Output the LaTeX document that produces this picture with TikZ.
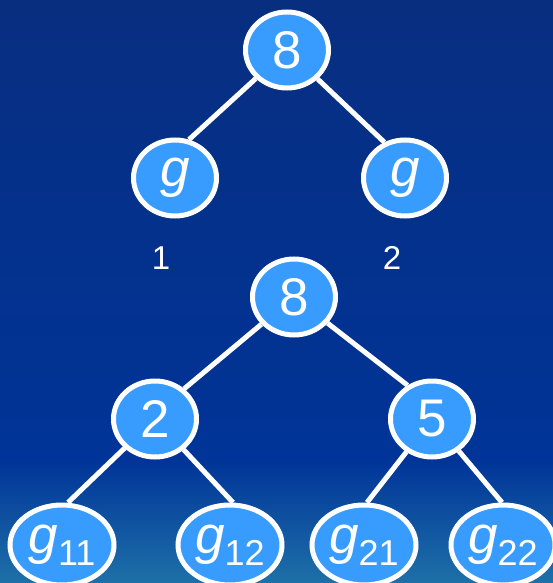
\documentclass[tikz,border=0pt]{standalone}
\usepackage{fontspec}
\setmainfont{Liberation Sans}
\usetikzlibrary{shapes.geometric}
\definecolor{bgtop}{RGB}{8,46,128}
\definecolor{bgmid}{RGB}{0,52,152}
\definecolor{bgbot}{RGB}{30,112,168}
\definecolor{nodefill}{RGB}{56,156,255}
\tikzset{
  tnode/.style={ellipse, draw=white, line width=5pt, fill=nodefill, text=white,
    minimum width=83pt, minimum height=76pt, inner sep=0pt, font=\fontsize{53}{53}\selectfont},
  leaf/.style={tnode, minimum width=104pt, minimum height=80pt},
  edge/.style={draw=white, line width=5pt},
  lbl/.style={text=white, font=\fontsize{33}{33}\selectfont, inner sep=0pt}
}
\newcommand{\gsub}[1]{\itshape g\upshape\raisebox{-12pt}{\fontsize{36}{36}\selectfont #1}}
\begin{document}
\begin{tikzpicture}[x=1pt,y=-1pt]
\useasboundingbox (0,0) rectangle (553,583);
\shade[top color=bgtop, bottom color=bgmid] (0,0) rectangle (553,460);
\shade[top color=bgmid, bottom color=bgbot] (0,459.5) rectangle (553,583);
% top tree
\node[tnode] (r1) at (287,50) {8};
\node[tnode] (ga) at (175,178) {\itshape g};
\node[tnode] (gb) at (405,178) {\itshape g};
\node[lbl] (l1) at (161,258) {1};
\node[lbl] (l2) at (392,258) {2};
% bottom tree
\node[tnode] (r2) at (294,297) {8};
\node[tnode] (n2) at (155,419) {2};
\node[tnode] (n5) at (432,419) {5};
\node[leaf] (g11) at (62,545) {\gsub{11}};
\node[leaf] (g12) at (230,545) {\gsub{12}};
\node[leaf] (g21) at (364,545) {\gsub{21}};
\node[leaf] (g22) at (503,545) {\gsub{22}};
\path[edge] (r1) -- (ga.70);
\path[edge] (r1) -- (gb.120);
\path[edge] (r2) -- (n2.46);
\path[edge] (r2) -- (n5.126);
\path[edge] (n2) -- ([xshift=6pt]g11.north);
\path[edge] (n2) -- ([xshift=3pt]g12.north);
\path[edge] (n5) -- ([xshift=3pt]g21.north);
\path[edge] (n5) -- ([xshift=-1pt]g22.north);
\end{tikzpicture}
\end{document}
